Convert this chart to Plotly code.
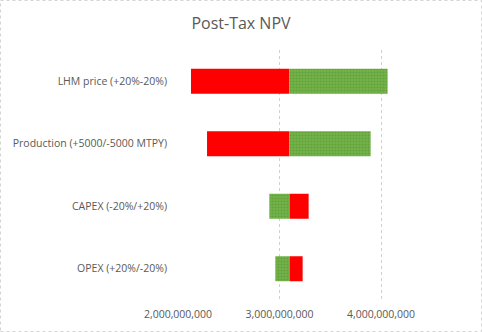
import plotly.graph_objects as go

categories = ["LHM price (+20%-20%)", "Production (+5000/-5000 MTPY)",
              "CAPEX (-20%/+20%)", "OPEX (+20%/-20%)"]
base_npv = 3.097e9
red_npv = [2.128e9, 2.286e9, 3.287e9, 3.228e9]
green_npv = [4.065e9, 3.898e9, 2.900e9, 2.959e9]
tick_vals = [2e9, 3e9, 4e9]
tick_text = ["2,000,000,000", "3,000,000,000", "4,000,000,000"]

W, H = 482, 332
L, R, T, B = 178, 50, 50, 32

fig = go.Figure()
fig.add_trace(go.Bar(
    y=categories, x=[v - base_npv for v in red_npv], base=[base_npv] * 4,
    orientation="h", marker=dict(color="#FF0000", line=dict(width=0)),
    showlegend=False, hoverinfo="skip"))
fig.add_trace(go.Bar(
    y=categories, x=[v - base_npv for v in green_npv], base=[base_npv] * 4,
    orientation="h",
    marker=dict(color="#6FAE3F", line=dict(width=0),
                pattern=dict(shape=".", fgcolor="#4F8F2A", bgcolor="#74B24A",
                             size=3, solidity=0.4)),
    showlegend=False, hoverinfo="skip"))

pw = W - L - R
ph = H - T - B
fig.add_shape(type="rect", xref="paper", yref="paper",
              x0=-(L - 0.5) / pw, x1=1 + (R - 0.5) / pw,
              y0=-(B - 0.5) / ph, y1=1 + (T - 0.5) / ph,
              line=dict(color="#D4D4D4", width=1, dash="dot"), layer="below")

fig.update_layout(
    width=W, height=H, margin=dict(l=L, r=R, t=T, b=B),
    paper_bgcolor="white", plot_bgcolor="white",
    barmode="overlay", bargap=0.6,
    font=dict(family="Open Sans, Calibri, sans-serif", color="#595959", size=10),
    title=dict(text="Post-Tax NPV", x=0.5, xref="container", xanchor="center",
               y=1 - 23 / H, yanchor="middle",
               font=dict(size=16, color="#595959")),
    xaxis=dict(range=[2e9, 2e9 + pw / 101.5 * 1e9], tickvals=tick_vals,
               ticktext=tick_text, showgrid=True, gridcolor="#D0D0D0",
               griddash="dot", gridwidth=1, zeroline=False, showline=False,
               ticks="", ticklabelstandoff=6, tickfont=dict(size=10.5, color="#595959")),
    yaxis=dict(autorange="reversed", showgrid=False, showline=False,
               ticks="", ticklabelstandoff=10,
               tickfont=dict(size=10.5, color="#595959")),
)
fig.write_html("out.html")
